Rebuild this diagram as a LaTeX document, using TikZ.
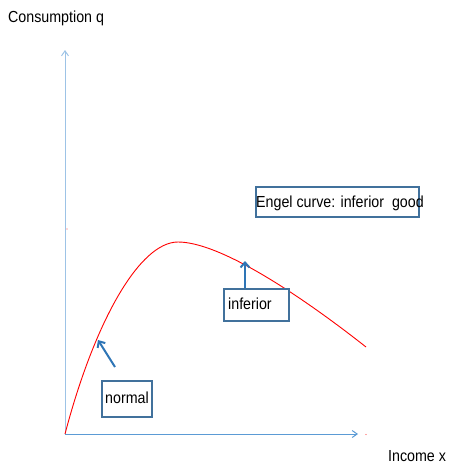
\documentclass[tikz,border=0pt]{standalone}
\usepackage{fontspec}
\setmainfont{Liberation Sans}[FakeStretch=0.89]
\usetikzlibrary{arrows.meta}
\definecolor{axisblue}{HTML}{9DC3E6}
\definecolor{axisblue2}{HTML}{5B9BD5}
\definecolor{boxblue}{HTML}{41719C}
\definecolor{arrblue}{HTML}{2E75B6}
\tikzset{
  axisline/.style={draw=#1, line width=1pt, -{Straight Barb[length=5pt,width=7pt]}},
  labelbox/.style={draw=boxblue, line width=1.5pt, fill=white, inner sep=0pt, anchor=north west},
  pointer/.style={draw=arrblue, line width=2pt, -{Straight Barb[length=5pt,width=9pt]}},
  axlabel/.style={font=\fontsize{16}{16}\selectfont, inner sep=0pt}
}
\begin{document}
\begin{tikzpicture}[x=1pt,y=-1pt]
\useasboundingbox (0,0) rectangle (452,466);
\coordinate (O) at (65,434);
\coordinate (Ytop) at (65,50);
\coordinate (Xend) at (358,434);
\draw[axisline=axisblue] (O) -- (Ytop);
\draw[axisline=axisblue2] (O) -- (Xend);
\node[axlabel, anchor=west] (ylab) at (8,18) {Consumption q};
\node[axlabel, anchor=west] (xlab) at (388,456) {Income x};
\coordinate (peak) at (178,242);
\coordinate (cend) at (366,347);
\draw[red, line width=0.9pt] (O) .. controls (95,320) and (140,242) .. (peak)
  .. controls (220,242) and (300,295) .. (cend);
\fill[red!70] (366,434.5) circle (0.7);
\fill[red!70] (67,229) circle (0.7);
\node[labelbox, minimum width=163pt, minimum height=30pt] (engel) at (255,186) {};
\node[axlabel, anchor=west] (engeltext) at (256,203) {Engel curve: inferior\ \ good};
\node[labelbox, minimum width=65pt, minimum height=32pt] (inf) at (223,288) {};
\node[axlabel, anchor=west] (inftext) at (228,304) {inferior};
\node[labelbox, minimum width=50pt, minimum height=36pt] (norm) at (101,380) {};
\node[axlabel, anchor=west] (normtext) at (105,398) {normal};
\coordinate (infhead) at (245,261);
\coordinate (normhead) at (98,340);
\coordinate (normtail) at (115,367);
\draw[pointer] (inf.north west -| infhead) -- (infhead);
\draw[pointer] (normtail) -- (normhead);
\end{tikzpicture}
\end{document}
